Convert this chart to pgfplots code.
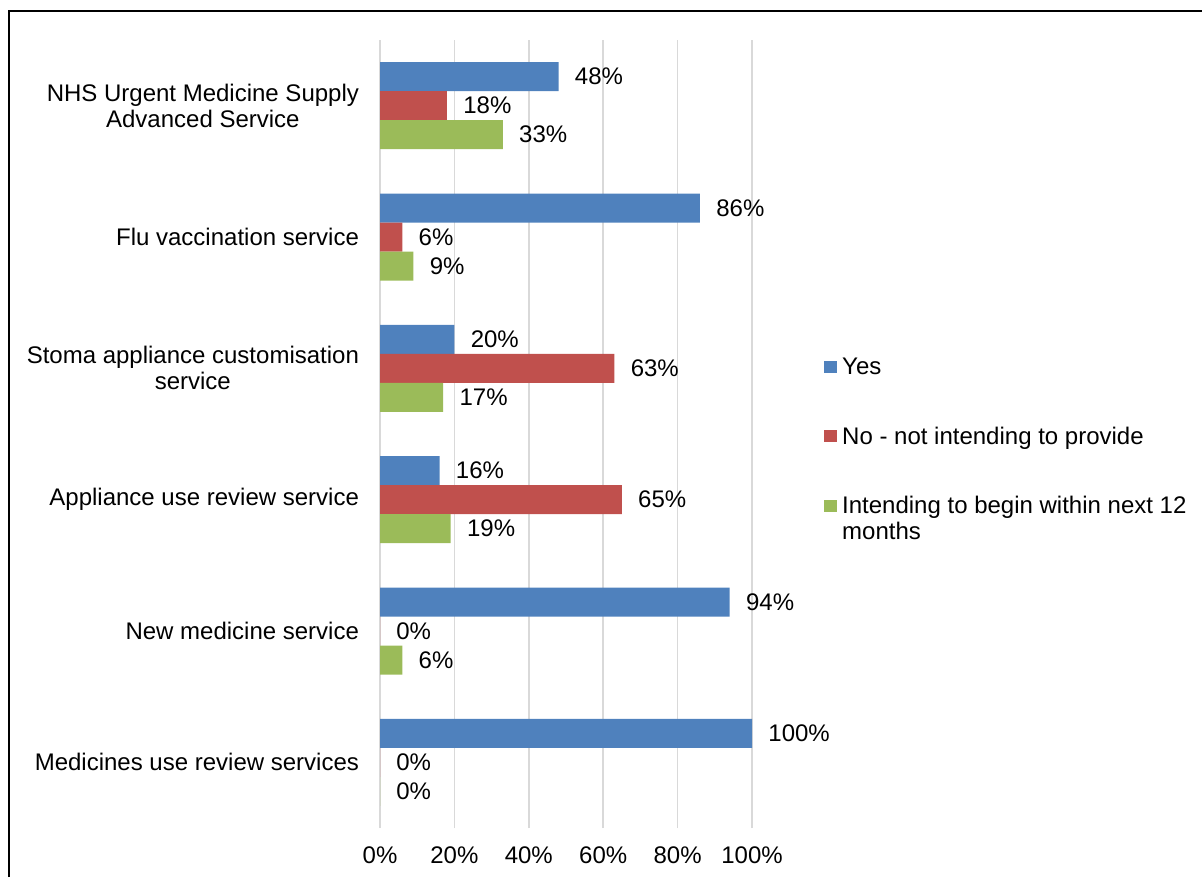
\documentclass[border=0pt]{standalone}
\usepackage{fontspec}
\setmainfont{Liberation Sans}
\usepackage{pgfplots}
\pgfplotsset{compat=1.18}
\definecolor{cyes}{HTML}{4F81BD}
\definecolor{cno}{HTML}{C0504D}
\definecolor{cint}{HTML}{9BBB59}
\definecolor{cgrid}{HTML}{D9D9D9}
\begin{document}
\begin{tikzpicture}[font=\fontsize{12}{13}\selectfont]
\useasboundingbox (0,0) rectangle (601pt,-438.5pt);
\draw[line width=1pt] (4.65pt,-438.5pt) -- (4.65pt,-5.5pt) -- (601pt,-5.5pt);
\begin{axis}[
  at={(190pt,-414pt)}, anchor=south west,
  scale only axis, width=186pt, height=394pt,
  xbar, bar width=14.5pt,
  xmin=0, xmax=100, ymin=-0.5, ymax=5.5,
  xtick={0,20,40,60,80,100},
  xticklabels={0\%,20\%,40\%,60\%,80\%,100\%},
  ytick={0,1,2,3,4,5},
  yticklabels={Medicines use review services, New medicine service, Appliance use review service, {Stoma appliance customisation\\service}, Flu vaccination service, {NHS Urgent Medicine Supply\\Advanced Service}},
  yticklabel style={align=center, xshift=-7pt},
  xticklabel style={yshift=-6pt},
  major tick length=0pt,
  tick style={draw=none},
  axis line style={draw=none},
  xmajorgrids, grid style={cgrid, line width=0.8pt},
  nodes near coords={\pgfmathprintnumber{\pgfplotspointmeta}\%},
  nodes near coords style={anchor=west, inner sep=0pt, xshift=8pt},
  /pgf/number format/assume math mode=true,
  legend style={at={(1.1935,0.598)}, anchor=north west, draw=none, fill=none, inner sep=0pt, outer sep=0pt, row sep=22.75pt, column sep=2.8pt, nodes={inner sep=0pt, text height=9pt, text depth=3pt}},
  legend cell align=left,
  legend image code/.code={\fill[#1] (0pt,-2pt) rectangle (6.3pt,4pt);},
]
\addplot[fill=cyes, draw=none, bar shift=14.5pt] coordinates {(100,0) (94,1) (16,2) (20,3) (86,4) (48,5)};
\addplot[fill=cno, draw=none, bar shift=0pt] coordinates {(0,0) (0,1) (65,2) (63,3) (6,4) (18,5)};
\addplot[fill=cint, draw=none, bar shift=-14.5pt] coordinates {(0,0) (6,1) (19,2) (17,3) (9,4) (33,5)};
\legend{Yes, No - not intending to provide, {\begin{tabular}[t]{@{}l@{}}Intending to begin within next 12\\months\end{tabular}}}
\end{axis}
\end{tikzpicture}
\end{document}
